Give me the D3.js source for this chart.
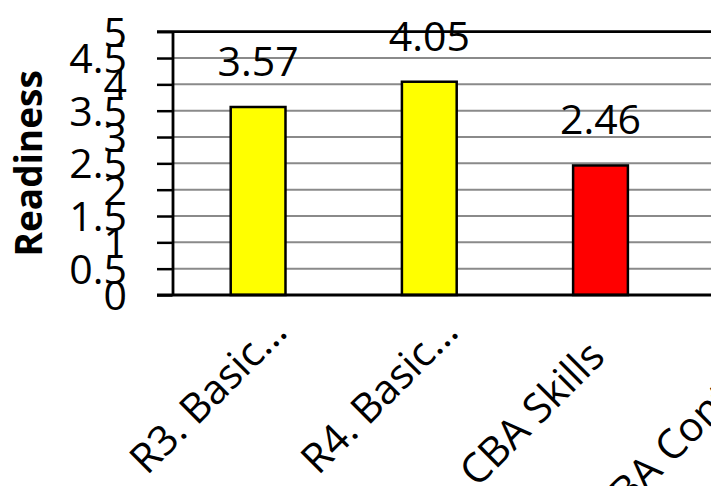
<!DOCTYPE html>
<html><head><meta charset="utf-8">
<script src="https://cdn.jsdelivr.net/npm/d3@7"></script>
<style>html,body{margin:0;padding:0;background:#fff;overflow:hidden}</style>
</head><body>
<script>
const categories = ["R3. Basic…", "R4. Basic…", "CBA Skills", "CBA Content…"];
const values = [3.57, 4.05, 2.46, null];
const barColors = ["#FFFF00", "#FFFF00", "#FF0000", "#FF0000"];
const yTicks = [0, 0.5, 1, 1.5, 2, 2.5, 3, 3.5, 4, 4.5, 5];
const yTitle = "Readiness";

const W = 711, H = 486;
const font = "'Open Sans', sans-serif";
const svg = d3.select("body").append("svg").attr("width", W).attr("height", H);

const x0 = 172.5, plotTop = 31.7, plotBottom = 295, step = 171.2;
const x = d3.scaleBand().domain(categories).range([x0, x0 + step * categories.length])
  .paddingInner(0.68).paddingOuter(0.34);
const y = d3.scaleLinear().domain([0, 5]).range([plotBottom, plotTop]);

// gridlines
svg.append("g").selectAll("line").data(yTicks.filter(t => t > 0 && t < 5)).join("line")
  .attr("x1", x0).attr("x2", W + 200).attr("y1", d => y(d)).attr("y2", d => y(d))
  .attr("stroke", "#8a8a8a").attr("stroke-width", 2);

// top border
svg.append("line").attr("x1", x0 - 15.5).attr("x2", W + 200).attr("y1", y(5)).attr("y2", y(5))
  .attr("stroke", "#000").attr("stroke-width", 2.8);

// bars
svg.append("g").selectAll("rect").data(categories.map((c, i) => ({c, v: values[i], col: barColors[i]})).filter(d => d.v != null))
  .join("rect")
  .attr("x", d => x(d.c)).attr("width", x.bandwidth())
  .attr("y", d => y(d.v)).attr("height", d => y(0) - y(d.v))
  .attr("fill", d => d.col).attr("stroke", "#000").attr("stroke-width", 2.5);

// y axis
const yAxis = d3.axisLeft(y).tickValues(yTicks).tickSize(15.5).tickSizeOuter(0).tickFormat(d3.format("~g")).tickPadding(30);
const gy = svg.append("g").attr("transform", `translate(${x0},0)`).call(yAxis);
gy.select(".domain").attr("stroke", "#000").attr("stroke-width", 2.8);
gy.selectAll(".tick line").attr("stroke", "#000").attr("stroke-width", 2.5);
gy.selectAll(".tick text").attr("font-family", font).attr("font-size", 41).attr("fill", "#000")
  .attr("dy", null).attr("y", 14.5);

// x axis
const xAxis = d3.axisBottom(x).tickSize(0).tickSizeOuter(0);
const gx = svg.append("g").attr("transform", `translate(0,${plotBottom})`).call(xAxis);
gx.select(".domain").attr("stroke", "#000").attr("stroke-width", 2.8)
  .attr("d", `M${x0 - 15.5},0H${W + 200}`);
gx.selectAll(".tick text").attr("font-family", font).attr("font-size", 41).attr("fill", "#000")
  .attr("text-anchor", "end").attr("dy", null).attr("y", 0)
  .attr("x", d => d.endsWith("…") ? 0 : -35)
  .attr("transform", "translate(31,39) rotate(-45)");

// value labels
svg.append("g").selectAll("text").data(categories.map((c, i) => ({c, v: values[i]})).filter(d => d.v != null))
  .join("text")
  .attr("x", d => x(d.c) + x.bandwidth() / 2).attr("y", d => y(d.v) - 31)
  .attr("text-anchor", "middle").attr("font-family", font).attr("font-size", 41).attr("fill", "#000")
  .text(d => d3.format(".2f")(d.v));

// y title
svg.append("text").attr("transform", `translate(42,${(plotTop + plotBottom) / 2}) rotate(-90)`)
  .attr("text-anchor", "middle").attr("font-family", font).attr("font-weight", "bold")
  .attr("font-size", 37).attr("fill", "#000").text(yTitle);
</script>
</body></html>
